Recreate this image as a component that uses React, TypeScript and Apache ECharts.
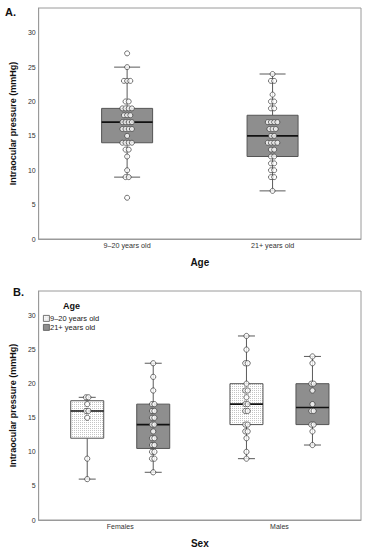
import React, { useEffect, useRef } from 'react';
import * as echarts from 'echarts';

// ---------- data ----------
const ageCategories = ['9–20 years old', '21+ years old'];
const sexCategories = ['Females', 'Males'];
const ageGroups = ['9–20 years old', '21+ years old'];
const yTicks = [0, 5, 10, 15, 20, 25, 30];

// box stats: [min, Q1, median, Q3, max]
const panelABox9to20 = [9, 14, 17, 19, 25];
const panelABox21plus = [7, 12, 15, 18, 24];
const panelAPoints9to20 = [27, 25, 23, 23, 23, 20, 20, 19, 19, 19, 19, 18, 18, 18, 17, 17, 17, 17, 16, 16, 16, 16, 15, 14, 14, 14, 14, 13, 13, 12, 10, 9, 9, 6];
const panelAPoints21plus = [24, 23, 23, 21, 20, 20, 19, 19, 17, 17, 17, 17, 16, 16, 16, 15, 15, 14, 14, 14, 14, 13, 13, 12, 12, 11, 11, 10, 10, 9, 9, 7];

// panel B: [Females, Males]
const panelBBoxes9to20 = [[6, 12, 16, 17.5, 18], [9, 14, 17, 20, 27]];
const panelBBoxes21plus = [[7, 10.5, 14, 17, 23], [11, 14, 16.5, 20, 24]];
const panelBPointsFemales9to20 = [18, 18, 17, 16, 16, 15, 9, 6];
const panelBPointsMales9to20 = [27, 25, 23, 23, 20, 19, 19, 18, 17, 17, 16, 16, 14, 14, 13, 13, 12, 10, 9];
const panelBPointsFemales21plus = [23, 21, 19, 17, 17, 16, 16, 15, 15, 14, 14, 13, 12, 12, 11, 11, 10, 10, 9, 9, 7];
const panelBPointsMales21plus = [24, 23, 20, 20, 19, 17, 16, 16, 14, 14, 13, 11];

// ---------- helpers ----------
const FONT = '"Liberation Sans", Arial, sans-serif';

function makePattern() {
  const c = document.createElement('canvas');
  c.width = 2;
  c.height = 2;
  const ctx = c.getContext('2d')!;
  ctx.fillStyle = '#ffffff';
  ctx.fillRect(0, 0, 2, 2);
  ctx.fillStyle = '#c4c4c4';
  ctx.fillRect(0, 0, 1, 1);
  return { image: c, repeat: 'repeat', imageWidth: 2, imageHeight: 2 };
}

function boxRender(boxW: number, capW: number, dx: number, fill: any) {
  return (params: any, api: any) => {
    const x = api.value(0);
    const c = api.coord([x, api.value(1)])[0] + dx;
    const yMin = api.coord([x, api.value(1)])[1];
    const yQ1 = api.coord([x, api.value(2)])[1];
    const yMed = api.coord([x, api.value(3)])[1];
    const yQ3 = api.coord([x, api.value(4)])[1];
    const yMax = api.coord([x, api.value(5)])[1];
    const ls = { stroke: '#5a5a5a', lineWidth: 1 };
    return {
      type: 'group',
      children: [
        { type: 'line', shape: { x1: c, y1: yMin, x2: c, y2: yQ1 }, style: ls },
        { type: 'line', shape: { x1: c, y1: yQ3, x2: c, y2: yMax }, style: ls },
        { type: 'line', shape: { x1: c - capW / 2, y1: yMin, x2: c + capW / 2, y2: yMin }, style: ls },
        { type: 'line', shape: { x1: c - capW / 2, y1: yMax, x2: c + capW / 2, y2: yMax }, style: ls },
        { type: 'rect', shape: { x: c - boxW / 2, y: yQ3, width: boxW, height: yQ1 - yQ3 }, style: { fill, stroke: '#555', lineWidth: 1 } },
        { type: 'line', shape: { x1: c - boxW / 2, y1: yMed, x2: c + boxW / 2, y2: yMed }, style: { stroke: '#111', lineWidth: 1.6 } },
      ],
    };
  };
}

function swarm(values: number[], x: number, dx: number, spacing: number) {
  const counts: Record<string, number> = {};
  values.forEach((v) => (counts[v] = (counts[v] || 0) + 1));
  const seen: Record<string, number> = {};
  return values.map((v) => {
    const k = counts[v];
    const i = seen[v] || 0;
    seen[v] = i + 1;
    return { value: [x, v], symbolOffset: [dx + (i - (k - 1) / 2) * spacing, 0] };
  });
}

const dotStyle = { color: '#ffffff', borderColor: '#3a3a3a', borderWidth: 0.9 };

export default function App() {
  const ref = useRef<HTMLDivElement>(null);
  useEffect(() => {
    if (!ref.current) return;
    const chart = echarts.init(ref.current, null, { renderer: 'svg' });
    const pattern = makePattern();

    const yAxisBase = (gridIndex: number) => ({
      type: 'value',
      gridIndex,
      min: 0,
      max: 33.6,
      interval: 5,
      name: 'Intraocular pressure (mmHg)',
      nameLocation: 'middle',
      nameGap: 18,
      nameTextStyle: { fontFamily: FONT, fontWeight: 'bold', fontSize: 9, color: '#111' },
      axisLine: { show: true, lineStyle: { color: '#9a9a9a', width: 1 } },
      axisTick: { show: false },
      splitLine: { show: false },
      axisLabel: { customValues: yTicks, fontFamily: FONT, fontSize: 7, color: '#333', margin: 3 },
    });

    const option: any = {
      animation: false,
      backgroundColor: '#ffffff',
      grid: [
        { left: 33, top: 8, width: 328, height: 231, show: true, borderColor: '#9a9a9a', borderWidth: 1, backgroundColor: 'transparent' },
        { left: 33, top: 291, width: 328, height: 229, show: true, borderColor: '#9a9a9a', borderWidth: 1, backgroundColor: 'transparent' },
      ],
      xAxis: [
        {
          type: 'value', gridIndex: 0, min: 0.392, max: 2.608,
          name: 'Age', nameLocation: 'middle', nameGap: 18,
          nameTextStyle: { fontFamily: FONT, fontWeight: 'bold', fontSize: 10, color: '#111' },
          axisLine: { show: true, lineStyle: { color: '#9a9a9a' } },
          axisTick: { show: false }, splitLine: { show: false },
          axisLabel: { customValues: [1, 2], formatter: (v: number) => ageCategories[Math.round(v) - 1] || '', fontFamily: FONT, fontSize: 7.2, color: '#333', margin: 3 },
        },
        {
          type: 'value', gridIndex: 1, min: 0.488, max: 2.512,
          name: 'Sex', nameLocation: 'middle', nameGap: 18,
          nameTextStyle: { fontFamily: FONT, fontWeight: 'bold', fontSize: 10, color: '#111' },
          axisLine: { show: true, lineStyle: { color: '#9a9a9a' } },
          axisTick: { show: false }, splitLine: { show: false },
          axisLabel: { customValues: [1, 2], formatter: (v: number) => sexCategories[Math.round(v) - 1] || '', fontFamily: FONT, fontSize: 7, color: '#333', margin: 3 },
        },
      ],
      yAxis: [yAxisBase(0), yAxisBase(1)],
      graphic: [
        { type: 'text', left: 5, top: 6, style: { text: 'A.', font: `bold 11px ${FONT}`, fill: '#111' } },
        { type: 'text', left: 13, top: 286, style: { text: 'B.', font: `bold 11px ${FONT}`, fill: '#111' } },
        { type: 'text', left: 63, top: 301, style: { text: 'Age', font: `bold 9px ${FONT}`, fill: '#111' } },
        { type: 'rect', left: 43, top: 315, shape: { width: 6, height: 6 }, style: { fill: pattern, stroke: '#555', lineWidth: 0.8 } },
        { type: 'text', left: 50, top: 314, style: { text: ageGroups[0], font: `7.5px ${FONT}`, fill: '#222' } },
        { type: 'rect', left: 43, top: 324, shape: { width: 6, height: 6 }, style: { fill: '#8e8e8e', stroke: '#555', lineWidth: 0.8 } },
        { type: 'text', left: 50, top: 323, style: { text: ageGroups[1], font: `7.5px ${FONT}`, fill: '#222' } },
      ],
      series: [
        // Panel A boxes
        {
          type: 'custom', name: ageCategories[0], xAxisIndex: 0, yAxisIndex: 0,
          renderItem: boxRender(51, 26, 0, '#8e8e8e'),
          data: [[1, ...panelABox9to20], [2, ...panelABox21plus]],
          z: 2,
        },
        {
          type: 'scatter', xAxisIndex: 0, yAxisIndex: 0, symbol: 'circle', symbolSize: 5,
          itemStyle: dotStyle, z: 5,
          data: [...swarm(panelAPoints9to20, 1, 0, 3.2), ...swarm(panelAPoints21plus, 2, 0, 3.2)],
        },
        // Panel B boxes
        {
          type: 'custom', name: ageGroups[0], xAxisIndex: 1, yAxisIndex: 1,
          renderItem: boxRender(33, 17, -33, pattern),
          data: panelBBoxes9to20.map((b, i) => [i + 1, ...b]),
          z: 2,
        },
        {
          type: 'custom', name: ageGroups[1], xAxisIndex: 1, yAxisIndex: 1,
          renderItem: boxRender(33, 17, 33, '#8e8e8e'),
          data: panelBBoxes21plus.map((b, i) => [i + 1, ...b]),
          z: 2,
        },
        {
          type: 'scatter', xAxisIndex: 1, yAxisIndex: 1, symbol: 'circle', symbolSize: 5.2,
          itemStyle: dotStyle, z: 5,
          data: [
            ...swarm(panelBPointsFemales9to20, 1, -33, 2.4),
            ...swarm(panelBPointsMales9to20, 2, -33, 2.4),
            ...swarm(panelBPointsFemales21plus, 1, 33, 2.4),
            ...swarm(panelBPointsMales21plus, 2, 33, 2.4),
          ],
        },
      ],
    };
    chart.setOption(option);
    return () => chart.dispose();
  }, []);
  return <div ref={ref} style={{ position: 'fixed', left: 0, top: 0, width: 368, height: 550 }} />;
}
